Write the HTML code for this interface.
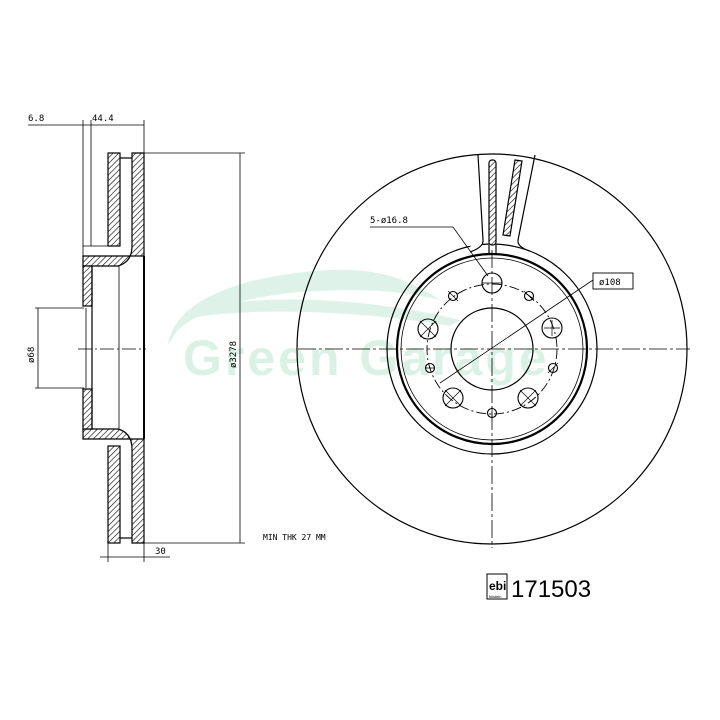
<!DOCTYPE html>
<html><head><meta charset="utf-8"><style>
html,body{margin:0;padding:0;background:#fff}
svg{display:block}
text{font-family:"DejaVu Sans Mono","Liberation Mono",monospace}
</style></head><body>
<svg width="720" height="720" viewBox="0 0 720 720" xmlns="http://www.w3.org/2000/svg">
<defs>
<pattern id="h" patternUnits="userSpaceOnUse" width="4" height="4" patternTransform="rotate(45)">
<rect width="4" height="4" fill="#fff"/><line x1="0" y1="0" x2="0" y2="4" stroke="#000" stroke-width="1.2"/>
</pattern>
</defs>
<rect width="720" height="720" fill="#fff"/>
<!-- watermark -->
<g opacity="0.8">
<path d="M168 345 C175 300 240 275 330 270 C380 268 410 280 440 300 C400 290 360 288 300 292 C240 298 200 310 178 330 Z" fill="#d6f0e4"/>
<path d="M185 312 C260 290 380 300 460 320 L450 326 C370 312 260 306 190 318 Z" fill="#d6f0e4"/>
<text x="183" y="375" font-weight="bold" font-size="50" letter-spacing="3" fill="#d2efe1" style="font-family:'Liberation Sans',sans-serif">Green Garage</text>
</g>
<g fill="none" stroke="#000" stroke-width="1.2">
<!-- side view -->
<rect x="108" y="153" width="12" height="93" fill="url(#h)"/>
<rect x="108" y="446" width="12" height="97" fill="url(#h)"/>
<path d="M132 153 H144 V256 H83 V266 H118 Q132 262 132 246 Z" fill="url(#h)"/>
<path d="M132 543 H144 V439 H83 V429 H118 Q132 433 132 449 Z" fill="url(#h)"/>
<rect x="83" y="266" width="9" height="40" fill="url(#h)"/>
<rect x="83" y="389" width="9" height="40" fill="url(#h)"/>
<line x1="120" y1="158" x2="132" y2="158"/><line x1="120" y1="538" x2="132" y2="538"/>
<line x1="92" y1="266" x2="92" y2="429"/>
<line x1="119" y1="266" x2="119" y2="429" stroke-width="0.8"/>
<line x1="144" y1="256" x2="144" y2="439" stroke-width="2"/>
<line x1="86" y1="308" x2="86" y2="388" stroke-width="0.8"/>
<line x1="83" y1="246" x2="108" y2="246" stroke-width="0.8"/>
<!-- dims -->
<line x1="28" y1="125" x2="144" y2="125" stroke-width="0.8"/>
<line x1="83" y1="120" x2="83" y2="256" stroke-width="0.8"/>
<line x1="91" y1="120" x2="91" y2="246" stroke-width="0.8"/>
<line x1="144" y1="120" x2="144" y2="153" stroke-width="0.8"/>
<line x1="144" y1="153" x2="245" y2="153" stroke-width="0.8"/>
<line x1="144" y1="543" x2="245" y2="543" stroke-width="0.8"/>
<line x1="240" y1="153" x2="240" y2="543" stroke-width="0.8"/>
<line x1="35" y1="308" x2="84" y2="308" stroke-width="0.8"/>
<line x1="35" y1="388" x2="84" y2="388" stroke-width="0.8"/>
<line x1="38" y1="308" x2="38" y2="388" stroke-width="0.8"/>
<line x1="108" y1="543" x2="108" y2="562" stroke-width="0.8"/>
<line x1="144" y1="543" x2="144" y2="562" stroke-width="0.8"/>
<line x1="100" y1="557" x2="170" y2="557" stroke-width="0.8"/>
<line x1="78" y1="349" x2="146" y2="349" stroke-width="0.8" stroke-dasharray="14 3 2 3"/>
<!-- front view -->
<circle cx="492" cy="349" r="195"/>
<circle cx="492" cy="349" r="105"/>
<circle cx="492" cy="349" r="95" stroke-width="2.2"/>
<circle cx="492" cy="349" r="91" stroke-width="0.8"/>
<circle cx="492" cy="349" r="41"/>
<circle cx="492" cy="349" r="65" stroke-width="0.9" stroke-dasharray="10 3 2 3"/>
<path d="M478 155 L483 240 Q484 247 470 252" fill="#fff"/>
<path d="M535 155 L518 240 Q517 247 530 251" fill="#fff"/>
<rect x="489" y="160" width="7" height="85" rx="3" fill="url(#h)"/>
<path d="M515 160 L522 161 L510 236 L503 235 Z" fill="url(#h)"/>
<line x1="489" y1="245" x2="489" y2="254"/><line x1="496" y1="245" x2="496" y2="254"/>
<line x1="298" y1="349" x2="690" y2="349" stroke-width="0.8" stroke-dasharray="18 3 3 3"/>
<line x1="492" y1="250" x2="492" y2="548" stroke-width="0.8" stroke-dasharray="18 3 3 3"/>
<g stroke-width="1.1">
<circle cx="492" cy="283" r="10"/><circle cx="552" cy="328" r="10"/><circle cx="428" cy="329" r="10"/>
<circle cx="453" cy="398" r="10"/><circle cx="528" cy="398" r="10"/>
<circle cx="453" cy="296" r="4.5"/><circle cx="529" cy="296" r="4.5"/><circle cx="430" cy="368" r="4.5"/>
<circle cx="553" cy="368" r="4.5"/><circle cx="492" cy="413" r="4.5"/>
</g>
<g stroke-width="0.7">
<path d="M482 283h20M420 321l16 16M420 337l16-16M544 328h16M552 320v16M445 390l16 16M445 406l16-16M520 390l16 16M520 406l16-16M448 291l10 10M524 291l10 10M425 368h10M548 373l10-10M492 407v12"/>
</g>
<path d="M370 227 H453 L488 276" stroke-width="0.8"/>
<line x1="440" y1="383" x2="593" y2="280" stroke-width="0.8"/>
<rect x="593" y="273" width="40" height="16" stroke-width="0.9"/>
</g>
<g font-size="9" fill="#000">
<text x="28" y="121">6.8</text>
<text x="92" y="121">44.4</text>
<text x="155" y="554">30</text>
<text x="34" y="363" transform="rotate(-90 34 363)">ø68</text>
<text x="236" y="368" transform="rotate(-90 236 368)">ø3278</text>
<text x="370" y="223">5-ø16.8</text>
<text x="599" y="285">ø108</text>
<text x="263" y="540" font-size="8">MIN THK 27 MM</text>
</g>
<!-- logo -->
<rect x="487" y="574" width="20" height="25" fill="none" stroke="#000" stroke-width="1"/>
<text x="489" y="590" font-weight="bold" font-size="12" fill="#000" style="font-family:'Liberation Sans',sans-serif">ebi</text>
<text x="489" y="598" font-size="4" fill="#000" style="font-family:'Liberation Sans',sans-serif">bilstein</text>
<text x="511" y="597" font-size="24" fill="#000" style="font-family:'Liberation Sans',sans-serif">171503</text>
</svg>
</body></html>
